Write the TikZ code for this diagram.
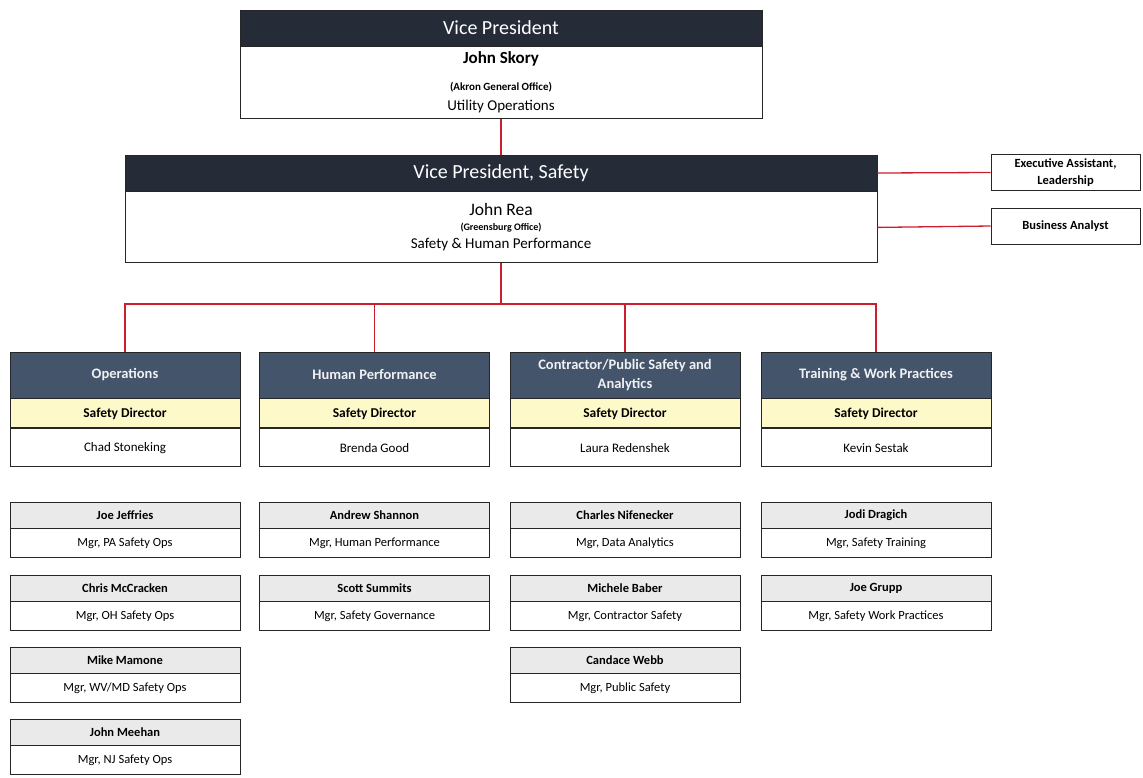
\documentclass[tikz,border=0pt]{standalone}
\usepackage{fontspec}
\setmainfont{Carlito}
\usetikzlibrary{positioning}

\definecolor{vpdark}{HTML}{252C38}
\definecolor{deptblue}{HTML}{44546A}
\definecolor{diryellow}{HTML}{FDF9C9}
\definecolor{mgrgray}{HTML}{EAEAEA}
\definecolor{linkred}{HTML}{CC1F2D}
\definecolor{boxline}{HTML}{262626}

\begin{document}
\begin{tikzpicture}[
    x=1pt, y=1pt,
    % Executive boxes
    exechead/.style={
        rectangle,
        draw=boxline,
        line width=0.9pt,
        fill=vpdark,
        text=white,
        minimum height=36pt,
        inner sep=0pt,
        font=\fontsize{20}{23}\selectfont
    },
    execbody/.style={
        rectangle,
        draw=boxline,
        line width=0.9pt,
        fill=white,
        inner sep=0pt
    },
    sidebox/.style={
        rectangle,
        draw=boxline,
        line width=0.9pt,
        fill=white,
        minimum width=149pt,
        minimum height=36pt,
        inner sep=0pt,
        align=center,
        font=\fontsize{12.5}{17.5}\selectfont\bfseries
    },
    % Department boxes
    depthead/.style={
        rectangle,
        draw=boxline,
        line width=0.9pt,
        fill=deptblue,
        text=white!92!deptblue,
        minimum width=230pt,
        minimum height=46pt,
        inner sep=0pt,
        align=center,
        font=\fontsize{14.5}{19}\selectfont\bfseries
    },
    deptdir/.style={
        rectangle,
        draw=boxline,
        line width=0.9pt,
        fill=diryellow,
        minimum width=230pt,
        minimum height=29pt,
        inner sep=0pt,
        font=\fontsize{13.5}{15}\selectfont\bfseries
    },
    deptname/.style={
        rectangle,
        draw=boxline,
        line width=0.9pt,
        fill=white,
        minimum width=230pt,
        minimum height=38pt,
        inner sep=0pt,
        font=\fontsize{13}{15}\selectfont
    },
    % Manager boxes
    mgrname/.style={
        rectangle,
        draw=boxline,
        line width=0.9pt,
        fill=mgrgray,
        minimum width=230pt,
        minimum height=26pt,
        inner sep=0pt,
        font=\fontsize{12.5}{14}\selectfont\bfseries
    },
    mgrjob/.style={
        rectangle,
        draw=boxline,
        line width=0.9pt,
        fill=white,
        minimum width=230pt,
        minimum height=29pt,
        inner sep=0pt,
        font=\fontsize{12.5}{14}\selectfont
    },
    link/.style={
        draw=linkred,
        line width=1.3pt
    }
]

\useasboundingbox (0,0) rectangle (1143,-777);

% === Top: Vice President ===
\node[exechead, minimum width=522pt] (vp) at (501,-28) {Vice President};
\node[execbody, minimum width=522pt, minimum height=72pt, below=0pt of vp] (vpbody) {};
\node[font=\fontsize{17}{19}\selectfont\bfseries] (vpname) at (501,-59) {John Skory};
\node[font=\fontsize{11}{12}\selectfont\bfseries] (vpoffice) at (501,-87) {(Akron General Office)};
\node[font=\fontsize{15}{17}\selectfont] (vpunit) at (501,-106) {Utility Operations};

% === Vice President, Safety ===
\node[exechead, minimum width=752pt] (vps) at (501,-173) {Vice President, Safety};
\node[execbody, minimum width=752pt, minimum height=71pt, below=0pt of vps] (vpsbody) {};
\node[font=\fontsize{17.5}{19}\selectfont] (vpsname) at (501,-209) {John Rea};
\node[font=\fontsize{10}{11}\selectfont\bfseries] (vpsoffice) at (501,-228) {(Greensburg Office)};
\node[font=\fontsize{15}{17}\selectfont] (vpsunit) at (501,-245) {Safety \& Human Performance};

% === Staff ===
\node[sidebox] (assistant) at (1065.5,-172.5) {Executive Assistant,\\Leadership};
\node[sidebox] (analyst) at (1065.5,-226) {Business Analyst};

% === Departments ===
\node[depthead] (ops) at (125,-375) {Operations};
\node[deptdir, below=0pt of ops] (opsdir) {Safety Director};
\node[deptname, below=0pt of opsdir] (opsname) {Chad Stoneking};

\node[depthead] (hp) at (374.5,-375) {Human Performance};
\node[deptdir, below=0pt of hp] (hpdir) {Safety Director};
\node[deptname, below=0pt of hpdir] (hpname) {Brenda Good};

\node[depthead] (cps) at (625,-375) {Contractor/Public Safety and\\Analytics};
\node[deptdir, below=0pt of cps] (cpsdir) {Safety Director};
\node[deptname, below=0pt of cpsdir] (cpsname) {Laura Redenshek};

\node[depthead] (twp) at (876,-375) {Training \& Work Practices};
\node[deptdir, below=0pt of twp] (twpdir) {Safety Director};
\node[deptname, below=0pt of twpdir] (twpname) {Kevin Sestak};

% === Managers: Operations ===
\node[mgrname] (jeffries) at (125,-515) {Joe Jeffries};
\node[mgrjob, below=0pt of jeffries] (jeffriesjob) {Mgr, PA Safety Ops};
\node[mgrname] (mccracken) at (125,-588) {Chris McCracken};
\node[mgrjob, below=0pt of mccracken] (mccrackenjob) {Mgr, OH Safety Ops};
\node[mgrname] (mamone) at (125,-660) {Mike Mamone};
\node[mgrjob, below=0pt of mamone] (mamonejob) {Mgr, WV/MD Safety Ops};
\node[mgrname] (meehan) at (125,-732) {John Meehan};
\node[mgrjob, below=0pt of meehan] (meehanjob) {Mgr, NJ Safety Ops};

% === Managers: Human Performance ===
\node[mgrname] (shannon) at (374.5,-515) {Andrew Shannon};
\node[mgrjob, below=0pt of shannon] (shannonjob) {Mgr, Human Performance};
\node[mgrname] (summits) at (374.5,-588) {Scott Summits};
\node[mgrjob, below=0pt of summits] (summitsjob) {Mgr, Safety Governance};

% === Managers: Contractor/Public Safety ===
\node[mgrname] (nifenecker) at (625,-515) {Charles Nifenecker};
\node[mgrjob, below=0pt of nifenecker] (nifeneckerjob) {Mgr, Data Analytics};
\node[mgrname] (baber) at (625,-588) {Michele Baber};
\node[mgrjob, below=0pt of baber] (baberjob) {Mgr, Contractor Safety};
\node[mgrname] (webb) at (625,-660) {Candace Webb};
\node[mgrjob, below=0pt of webb] (webbjob) {Mgr, Public Safety};

% === Managers: Training & Work Practices ===
\node[mgrname] (dragich) at (876,-515) {Jodi Dragich};
\node[mgrjob, below=0pt of dragich] (dragichjob) {Mgr, Safety Training};
\node[mgrname] (grupp) at (876,-588) {Joe Grupp};
\node[mgrjob, below=0pt of grupp] (gruppjob) {Mgr, Safety Work Practices};

% === Connectors ===
\coordinate (bus) at (501,-304);
\draw[link] (vpbody.south) -- (vps.north);
\draw[link] (vps.east) -- (assistant.west);
\draw[link] (vpsbody.east) -- (analyst.west);
\draw[link] (vpsbody.south) -- (bus);
\draw[link] (ops.north) |- (bus) -| (twp.north);
\draw[link] (hp.north) -- (hp.north |- bus);
\draw[link] (cps.north) -- (cps.north |- bus);

\end{tikzpicture}
\end{document}
